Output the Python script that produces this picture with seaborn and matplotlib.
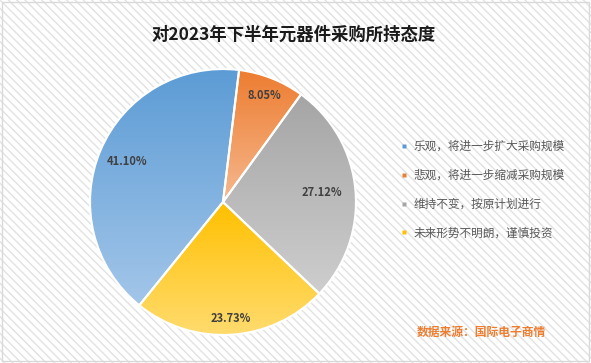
import numpy as np
import seaborn as sns
import matplotlib.pyplot as plt
from matplotlib.patches import Rectangle
from matplotlib.lines import Line2D

labels = ["乐观，将进一步扩大采购规模", "悲观，将进一步缩减采购规模",
          "维持不变，按原计划进行", "未来形势不明朗，谨慎投资"]
shares = [41.10, 8.05, 27.12, 23.73]

# gradient colours per slice: top -> bottom
top_colors = ["#5B9BD5", "#ED7D31", "#A5A5A5", "#FFC000"]
bottom_colors = ["#A3C6E9", "#F6B88E", "#CECECE", "#FFDC70"]
label_dist = [0.78, 0.86, 0.75, 0.88]

sns.set_theme(style="white")
plt.rcParams['font.family'] = ['Noto Sans CJK SC', 'DejaVu Sans']
plt.rcParams['hatch.linewidth'] = 1.0
plt.rcParams['hatch.color'] = '#E2E2E2'

fig = plt.figure(figsize=(5.91, 3.63), dpi=100)

# hatched background with thin border
bg = Rectangle((0, 0), 1, 1, transform=fig.transFigure, facecolor='white',
               hatch='\\' * 4, edgecolor='#E2E2E2', linewidth=0, zorder=-10)
fig.patches.append(bg)
frame = Rectangle((0.004, 0.006), 0.992, 0.988, transform=fig.transFigure,
                  facecolor='none', edgecolor='#D9D9D9', linewidth=1.0, zorder=-5)
fig.patches.append(frame)

ax = fig.add_axes([0.1523, 0.0771, 0.450, 0.7328])
ax.set_facecolor('none')

wedges, texts, autotexts = ax.pie(
    shares, startangle=231, counterclock=False, autopct='%.2f%%',
    wedgeprops=dict(edgecolor='white', linewidth=1.5),
    textprops=dict(fontsize=8, fontweight='bold', color='#404040'))

for i, (w, t) in enumerate(zip(wedges, autotexts)):
    verts = w.get_path().vertices
    y0, y1 = verts[:, 1].min(), verts[:, 1].max()
    x0, x1 = verts[:, 0].min(), verts[:, 0].max()
    c_top = np.array(plt.matplotlib.colors.to_rgb(top_colors[i]))
    c_bot = np.array(plt.matplotlib.colors.to_rgb(bottom_colors[i]))
    frac = np.linspace(0, 1, 256)[:, None]
    grad = (c_top * (1 - frac) + c_bot * frac)[:, None, :]
    w.set_facecolor('none')
    im = ax.imshow(grad, extent=[x0, x1, y0, y1], origin='upper',
                   aspect='auto', zorder=0.5, interpolation='bilinear')
    im.set_clip_path(w)
    w.set_zorder(1)
    ang = np.deg2rad((w.theta1 + w.theta2) / 2)
    t.set_position((label_dist[i] * np.cos(ang), label_dist[i] * np.sin(ang)))
    t.set_zorder(3)

ax.set_xlim(-1, 1)
ax.set_ylim(-1, 1)
ax.set_aspect('equal')
ax.axis('off')

fig.text(0.496, 0.905, "对2023年下半年元器件采购所持态度", ha='center', va='center',
         fontsize=12.5, fontweight='bold', color='#1a1a1a')

handles = [Line2D([0], [0], marker='s', linestyle='none', markersize=3.5,
                  markerfacecolor=top_colors[i], markeredgecolor='none')
           for i in range(len(labels))]
leg = fig.legend(handles, labels, loc='upper left',
                 bbox_to_anchor=(0.668, 0.63), frameon=False,
                 fontsize=8.4, labelspacing=1.35, handlelength=0.5,
                 handletextpad=0.6, borderpad=0)
for txt in leg.get_texts():
    txt.set_color('#595959')

fig.text(0.706, 0.083, "数据来源：国际电子商情", ha='left', va='center',
         fontsize=8.5, fontweight='bold', color='#ED7D31')

fig.savefig("out.png", dpi=100)
